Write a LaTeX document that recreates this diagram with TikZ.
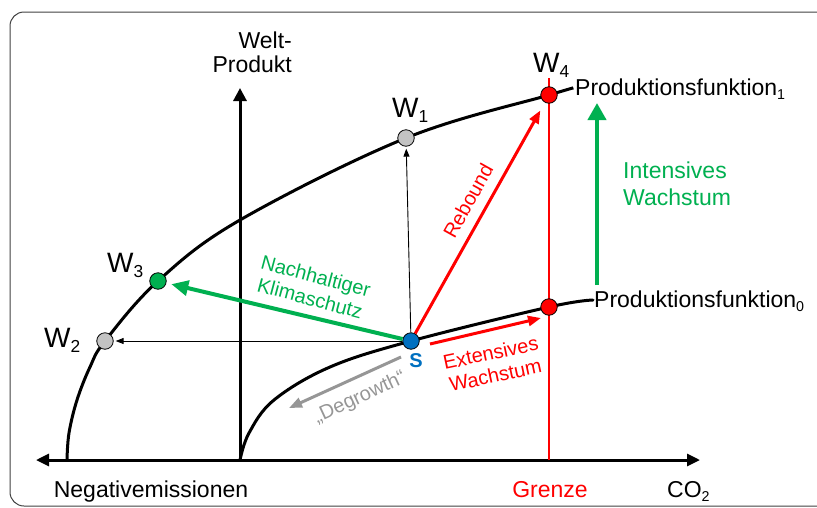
\documentclass[tikz,border=0pt]{standalone}
\usepackage{fontspec}
\setmainfont{Liberation Sans}
\usetikzlibrary{arrows.meta}
\definecolor{myred}{RGB}{255,0,0}
\definecolor{mygreen}{RGB}{0,176,80}
\definecolor{myblue}{RGB}{0,112,192}
\definecolor{dotgray}{RGB}{195,195,195}
\definecolor{txtgray}{RGB}{150,150,150}
\newcommand\sbx[1]{\raisebox{-0.4ex}{\scalebox{0.62}{#1}}}
\begin{document}
\begin{tikzpicture}[x=1pt,y=-1pt,
  lbl/.style={font=\fontsize{23}{27}\selectfont, inner sep=0pt},
  wlbl/.style={font=\fontsize{28}{30}\selectfont, inner sep=0pt},
  rlbl/.style={font=\fontsize{20}{23}\selectfont, inner sep=0pt, align=center},
  dot/.style={circle, draw=black, line width=0.8pt, minimum size=16.5pt, inner sep=0pt},
  axis/.style={line width=3pt, {Triangle[length=13pt,width=12pt]}-{Triangle[length=13pt,width=12pt]}},
  vaxis/.style={line width=3pt, -{Triangle[length=13pt,width=13pt]}},
  curve/.style={line width=3pt, line cap=round},
  thinarr/.style={line width=0.9pt, -{Triangle[length=8pt,width=6pt]}},
  bigarr/.style={line width=4pt, -{Triangle[length=17pt,width=15pt]}},
  redarr/.style={line width=3pt, draw=myred, -{Triangle[length=13pt,width=10pt]}},
  grayarr/.style={line width=3pt, draw=txtgray, -{Triangle[length=13pt,width=10pt]}},
  frame/.style={draw=black!75, line width=1pt, rounded corners=14pt}
]
\useasboundingbox (0,0) rectangle (817,507);
\begin{scope}
  \clip (0,0) rectangle (817,507);
  \draw[frame] (10,12) rectangle (860,506);
\end{scope}

% axes
\coordinate (xl) at (36,460);
\coordinate (xr) at (700,460);
\coordinate (yb) at (240,460);
\coordinate (yt) at (240,88);
\draw[axis] (xl) -- (xr);
\draw[vaxis] (yb) -- (yt);

% limit line
\coordinate (gb) at (549,460);
\coordinate (gt) at (549,78);
\draw[myred, line width=2.5pt] (gb) -- (gt);

% curves
\draw[curve] plot[smooth, tension=0.6] coordinates {(67,460) (69,433) (77,400) (90,367) (105,341) (158,281) (240,220) (406,138) (549,95) (573,88)};
\draw[curve] plot[smooth, tension=0.6] coordinates {(240,460) (249,433) (274,400) (330,367) (411,341) (549,307) (593,300)};

% dots
\node[dot, fill=myred] (W4) at (549,95) {};
\node[dot, fill=dotgray] (W1) at (406,138) {};
\node[dot, fill=mygreen] (W3) at (158,281) {};
\node[dot, fill=dotgray] (W2) at (105,341) {};
\node[dot, fill=myred] (R0) at (549,307) {};
\node[dot, fill=myblue] (S) at (411,341) {};

% thin arrows
\draw[thinarr, shorten >=2pt] (S) -- (W1);
\draw[thinarr, shorten >=2pt] (S) -- (W2);

% thick arrows
\draw[bigarr, draw=mygreen, fill=mygreen, shorten >=5pt] (S) -- (W3);
\draw[redarr, shorten >=9pt] (S) -- (W4);
\coordinate (e1) at (430,344);
\coordinate (e2) at (541,318);
\draw[redarr] (e1) -- (e2);
\coordinate (d1) at (401,357);
\coordinate (d2) at (289,408);
\draw[grayarr] (d1) -- (d2);
\coordinate (i1) at (597,285);
\coordinate (i2) at (597,103);
\draw[line width=4pt, draw=mygreen, -{Triangle[length=17pt,width=18pt]}] (i1) -- (i2);

% labels
\node[lbl, anchor=base east] (welt) at (292,48) {Welt-};
\node[lbl, anchor=base east] (prod) at (292,72) {Produkt};
\node[lbl, anchor=base] (neg) at (151,497) {Negativemissionen};
\node[lbl, anchor=base, text=myred] (gren) at (550,497) {Grenze};
\node[lbl, anchor=base west] (co2) at (667,497) {CO\sbx{2}};
\node[lbl, anchor=base west] (pf1) at (575,95) {Produktionsfunktion\sbx{1}};
\node[lbl, anchor=base west] (pf0) at (594,307) {Produktionsfunktion\sbx{0}};
\node[lbl, anchor=base west, text=mygreen] (int1) at (623,178) {Intensives};
\node[lbl, anchor=base west, text=mygreen] (int2) at (623,205) {Wachstum};
\node[wlbl, anchor=base west] (lW4) at (533,72) {W\sbx{4}};
\node[wlbl, anchor=base west] (lW1) at (392,117) {W\sbx{1}};
\node[wlbl, anchor=base west] (lW3) at (107,272) {W\sbx{3}};
\node[wlbl, anchor=base west] (lW2) at (44,347) {W\sbx{2}};
\node[font=\bfseries\fontsize{20}{20}\selectfont, text=myblue, inner sep=0pt] (lS) at (416,361) {S};
\node[rlbl, text=mygreen, rotate=-15] (nk) at (313,287) {Nachhaltiger\\Klimaschutz};
\node[rlbl, text=myred, rotate=12] (ew) at (493,364) {Extensives\\Wachstum};
\node[rlbl, text=myred, rotate=61] (reb) at (468,201) {Rebound};
\node[rlbl, text=txtgray, rotate=25] (deg) at (360,398) {„Degrowth“};
\end{tikzpicture}
\end{document}
